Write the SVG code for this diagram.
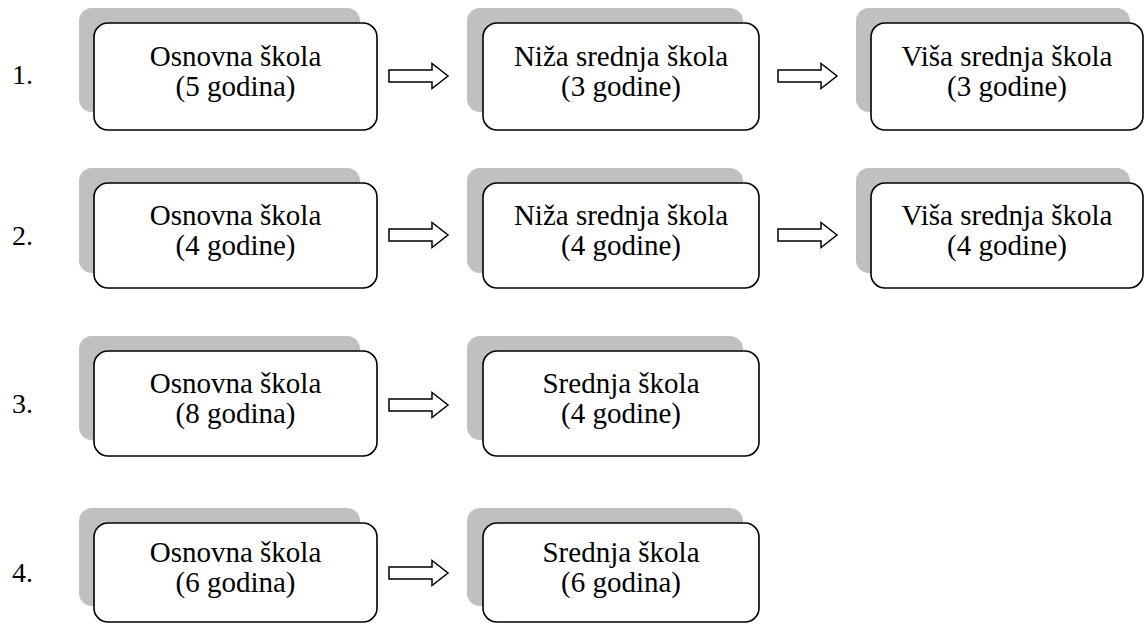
<svg xmlns="http://www.w3.org/2000/svg" xmlns:xlink="http://www.w3.org/1999/xlink" width="1145" height="624" viewBox="0 0 1145 624">
<style>
.sh{fill:#c0c0c0;stroke:none}
.bx{fill:#fff;stroke:#000;stroke-width:1.6}
.t{font-family:"Liberation Serif","Times New Roman",serif;font-size:29px;fill:#000;text-anchor:middle}
.n{font-family:"Liberation Serif","Times New Roman",serif;font-size:28px;fill:#000}
.ar{fill:#fff;stroke:#000;stroke-width:1.5;stroke-linejoin:miter}
</style>
<defs>
<path id="arrow" class="ar" d="M0,-6 H43 V-12.5 L59,0 L43,12.5 V6 H0 Z"/>
</defs>
<rect width="1145" height="624" fill="#fff"/>
<g id="labels">
<text class="n" x="12" y="84">1.</text>
<text class="n" x="12" y="245">2.</text>
<text class="n" x="12" y="413">3.</text>
<text class="n" x="12" y="582">4.</text>
</g>
<g id="r1c1"><rect class="sh" x="79" y="8" width="281" height="104" rx="13"/><rect class="bx" x="94" y="23" width="283" height="107" rx="14"/><text class="t" x="235.5" y="65.5">Osnovna škola</text><text class="t" x="235.5" y="95.5">(5 godina)</text></g>
<g id="r1c2"><rect class="sh" x="467" y="8" width="276" height="104" rx="13"/><rect class="bx" x="483" y="23" width="276" height="107" rx="14"/><text class="t" x="621" y="65.5">Niža srednja škola</text><text class="t" x="621" y="95.5">(3 godine)</text></g>
<g id="r1c3"><rect class="sh" x="856" y="8" width="274" height="104" rx="13"/><rect class="bx" x="871" y="23" width="272" height="107" rx="14"/><text class="t" x="1007" y="65.5">Viša srednja škola</text><text class="t" x="1007" y="95.5">(3 godine)</text></g>
<g id="r2c1"><rect class="sh" x="79" y="168" width="281" height="105" rx="13"/><rect class="bx" x="94" y="183" width="283" height="105" rx="14"/><text class="t" x="235.5" y="224.5">Osnovna škola</text><text class="t" x="235.5" y="254.5">(4 godine)</text></g>
<g id="r2c2"><rect class="sh" x="467" y="168" width="276" height="105" rx="13"/><rect class="bx" x="483" y="183" width="276" height="105" rx="14"/><text class="t" x="621" y="224.5">Niža srednja škola</text><text class="t" x="621" y="254.5">(4 godine)</text></g>
<g id="r2c3"><rect class="sh" x="856" y="168" width="274" height="105" rx="13"/><rect class="bx" x="871" y="183" width="272" height="105" rx="14"/><text class="t" x="1007" y="224.5">Viša srednja škola</text><text class="t" x="1007" y="254.5">(4 godine)</text></g>
<g id="r3c1"><rect class="sh" x="79" y="336" width="281" height="104" rx="13"/><rect class="bx" x="94" y="351" width="283" height="105" rx="14"/><text class="t" x="235.5" y="392.5">Osnovna škola</text><text class="t" x="235.5" y="422.5">(8 godina)</text></g>
<g id="r3c2"><rect class="sh" x="467" y="336" width="276" height="104" rx="13"/><rect class="bx" x="483" y="351" width="276" height="105" rx="14"/><text class="t" x="621" y="392.5">Srednja škola</text><text class="t" x="621" y="422.5">(4 godine)</text></g>
<g id="r4c1"><rect class="sh" x="79" y="508" width="281" height="98" rx="13"/><rect class="bx" x="94" y="523" width="283" height="99" rx="14"/><text class="t" x="235.5" y="562">Osnovna škola</text><text class="t" x="235.5" y="592">(6 godina)</text></g>
<g id="r4c2"><rect class="sh" x="467" y="508" width="276" height="98" rx="13"/><rect class="bx" x="483" y="523" width="276" height="99" rx="14"/><text class="t" x="621" y="562">Srednja škola</text><text class="t" x="621" y="592">(6 godina)</text></g>
<g id="connectors">
<use xlink:href="#arrow" href="#arrow" x="389" y="76"/>
<use xlink:href="#arrow" href="#arrow" x="778" y="76"/>
<use xlink:href="#arrow" href="#arrow" x="389" y="235"/>
<use xlink:href="#arrow" href="#arrow" x="778" y="235"/>
<use xlink:href="#arrow" href="#arrow" x="389" y="405"/>
<use xlink:href="#arrow" href="#arrow" x="389" y="573"/>
</g>
</svg>
